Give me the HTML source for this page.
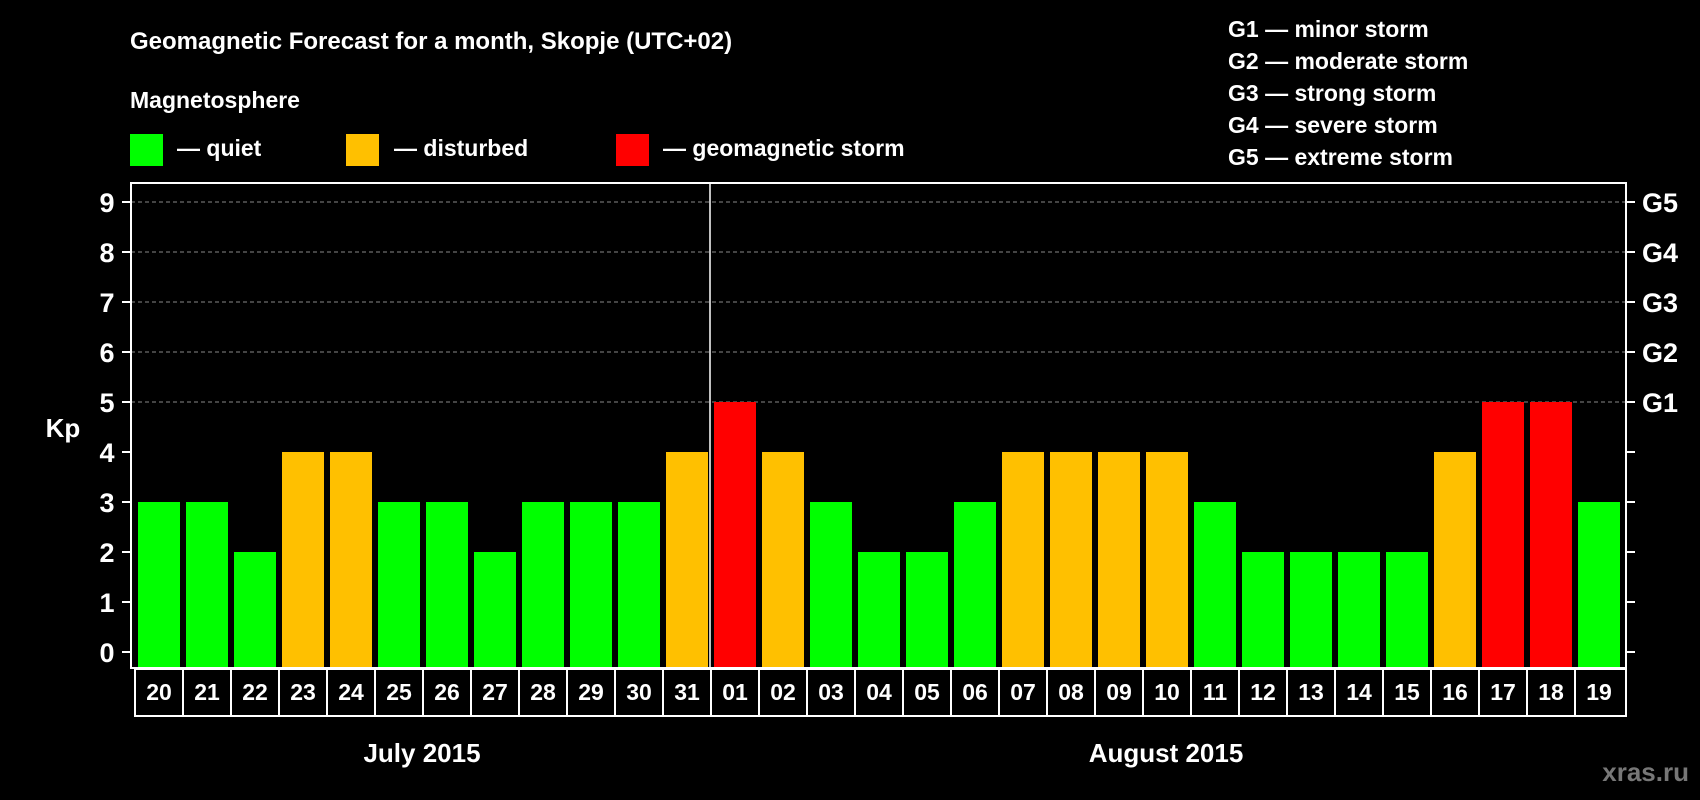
<!DOCTYPE html>
<html><head><meta charset="utf-8"><style>
html,body{margin:0;padding:0;background:#000;}
svg{display:block;font-family:"Liberation Sans",Arial,sans-serif;font-weight:bold;}
</style></head><body>
<svg id="chart" width="1700" height="800" viewBox="0 0 1700 800">
<rect width="1700" height="800" fill="#000"/>
<text x="130" y="49" fill="#fff" font-size="24">Geomagnetic Forecast for a month, Skopje (UTC+02)</text>
<text x="130" y="108" fill="#fff" font-size="23">Magnetosphere</text>
<g><rect x="130" y="134" width="33" height="32" fill="#00ff00"/><text x="177" y="156" fill="#fff" font-size="23">— quiet</text></g>
<g><rect x="346" y="134" width="33" height="32" fill="#ffc000"/><text x="394" y="156" fill="#fff" font-size="23">— disturbed</text></g>
<g><rect x="616" y="134" width="33" height="32" fill="#ff0000"/><text x="663" y="156" fill="#fff" font-size="23">— geomagnetic storm</text></g>
<g fill="#fff" font-size="23">
<text x="1228" y="37">G1 — minor storm</text>
<text x="1228" y="69">G2 — moderate storm</text>
<text x="1228" y="101">G3 — strong storm</text>
<text x="1228" y="133">G4 — severe storm</text>
<text x="1228" y="165">G5 — extreme storm</text>
</g>
<text x="63" y="437" fill="#fff" font-size="26" text-anchor="middle">Kp</text>
<g id="grid"></g><g id="bars"></g><g id="axes"></g>
<text x="422" y="762" fill="#fff" font-size="26" text-anchor="middle">July 2015</text>
<text x="1166" y="762" fill="#fff" font-size="26" text-anchor="middle">August 2015</text>
<text x="1689" y="781" fill="#777" font-size="26" text-anchor="end">xras.ru</text>
</svg>
<script>
const days=["20","21","22","23","24","25","26","27","28","29","30","31","01","02","03","04","05","06","07","08","09","10","11","12","13","14","15","16","17","18","19"];
const kp=[3,3,2,4,4,3,3,2,3,3,3,4,5,4,3,2,2,3,4,4,4,4,3,2,2,2,2,4,5,5,3];
const yTicks=[0,1,2,3,4,5,6,7,8,9];
const gLabels=["G1","G2","G3","G4","G5"];
const NS="http://www.w3.org/2000/svg";
const L=131,R=1626,T=183,B=668,X0=138,P=48,BW=42;
function y(v){return 652-v*50;}
function x(i){return X0+i*P;}
function mk(tag,attrs,parent,txt){const e=document.createElementNS(NS,tag);for(const k in attrs)e.setAttribute(k,attrs[k]);if(txt!=null)e.textContent=txt;parent.appendChild(e);return e;}
const grid=document.getElementById('grid'),bars=document.getElementById('bars'),axes=document.getElementById('axes');
yTicks.forEach(v=>{
  if(v>=5){const l=mk('line',{x1:L,x2:R,y1:y(v),y2:y(v),stroke:'#888','stroke-width':1,'stroke-dasharray':'4,3'},grid);
  
  }
  mk('line',{x1:L-9,x2:L,y1:y(v),y2:y(v),stroke:'#fff','stroke-width':2},axes);
  mk('line',{x1:R,x2:R+9,y1:y(v),y2:y(v),stroke:'#fff','stroke-width':2},axes);
  const t=mk('text',{x:107,y:y(v)+10,fill:'#fff','font-size':27,'text-anchor':'middle'},axes,String(v));
  
  
});
gLabels.forEach((g,i)=>{
  const t=mk('text',{x:1642,y:y(5+i)+10,fill:'#fff','font-size':27},axes,g);
  
  
});
kp.forEach((v,i)=>{
  const c=v>=5?'#ff0000':(v>=4?'#ffc000':'#00ff00');
  const r=mk('rect',{x:x(i),y:y(v),width:BW,height:B-y(v),fill:c},bars);
  
  
});
mk('rect',{x:L,y:T,width:R-L,height:B-T,fill:'none',stroke:'#fff','stroke-width':2},axes);
mk('line',{x1:x(12)-4,x2:x(12)-4,y1:T,y2:B,stroke:'#fff','stroke-width':1.5},axes);
mk('rect',{x:135,y:669,width:R-135,height:47,fill:'none',stroke:'#fff','stroke-width':2},axes);
days.forEach((d,i)=>{
  if(i>0)mk('line',{x1:x(i)-3,x2:x(i)-3,y1:669,y2:716,stroke:'#fff','stroke-width':2},axes);
  const t=mk('text',{x:x(i)+BW/2,y:700,fill:'#fff','font-size':23,'text-anchor':'middle'},axes,d);
  
  
});
</script>
</body></html>
